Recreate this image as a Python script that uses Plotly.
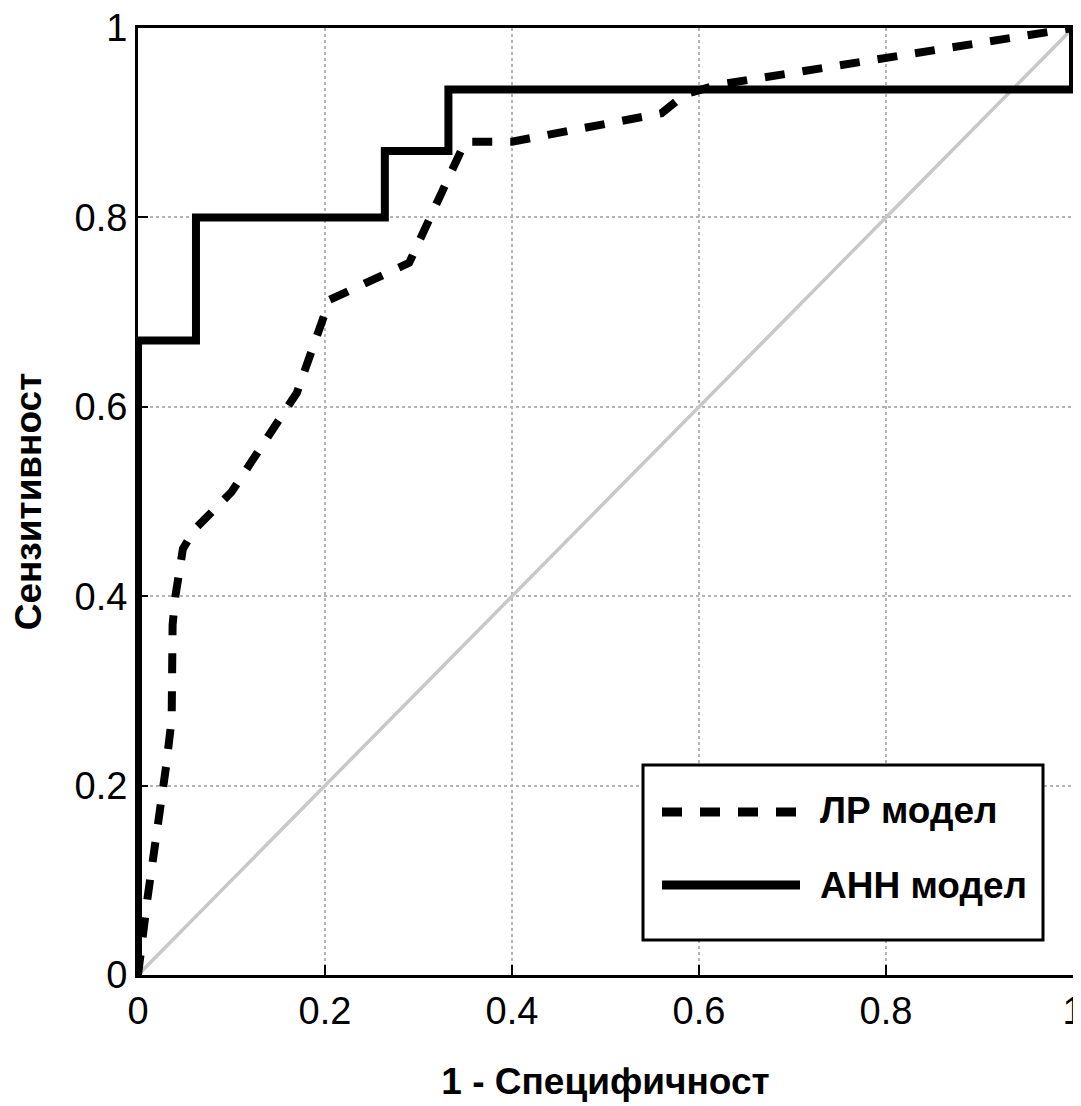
import plotly.graph_objects as go

# ---- data ----
lr_fpr = [0, 0.01, 0.03, 0.036, 0.037, 0.04, 0.048, 0.06, 0.10, 0.17, 0.205, 0.29, 0.35, 0.40, 0.56, 0.585, 0.62, 1.0]
lr_tpr = [0, 0.08, 0.22, 0.27, 0.37, 0.40, 0.45, 0.47, 0.51, 0.615, 0.713, 0.752, 0.88, 0.88, 0.91, 0.93, 0.94, 1.0]

ann_fpr = [0, 0, 0.062, 0.062, 0.264, 0.264, 0.332, 0.332, 1.0, 1.0]
ann_tpr = [0, 0.67, 0.67, 0.80, 0.80, 0.87, 0.87, 0.935, 0.935, 1.0]

ref_x = [0, 1]
ref_y = [0, 1]

tick_vals = [0, 0.2, 0.4, 0.6, 0.8, 1]
tick_text = ["0", "0.2", "0.4", "0.6", "0.8", "1"]

names = ["ЛР модел", "АНН модел"]
x_title = "1 - Специфичност"
y_title = "Сензитивност"

# page has an 8px body margin; figure placed at (8, 8) in the window
W, H = 1073, 1098
L, R, T, B = 130, 8, 20, 131
X0, X1 = 138, 1073   # page pixel positions of x=0 and x=1
Y0, Y1 = 975, 28     # page pixel positions of y=0 and y=1

def px(xp):
    return (xp - X0) / (X1 - X0)

def py(yp):
    return (Y0 - yp) / (Y0 - Y1)

DASH = "20px,18px"
FONT = "Liberation Sans"

fig = go.Figure()
fig.add_trace(go.Scatter(x=ref_x, y=ref_y, mode="lines",
                         line=dict(color="#c8c8c8", width=3.5), showlegend=False, cliponaxis=False))
fig.add_trace(go.Scatter(x=lr_fpr, y=lr_tpr, mode="lines", name=names[0],
                         line=dict(color="black", width=8, dash=DASH), showlegend=False, cliponaxis=False))
fig.add_trace(go.Scatter(x=ann_fpr, y=ann_tpr, mode="lines", name=names[1],
                         line=dict(color="black", width=8), showlegend=False, cliponaxis=False))

axis_common = dict(range=[0, 1], tickvals=tick_vals, ticktext=tick_text, automargin=False,
                   ticklabeloverflow="allow",
                   showgrid=True, gridcolor="#b4b4b4", gridwidth=2, griddash="dot",
                   showline=True, linecolor="black", linewidth=3, mirror=True,
                   ticks="inside", ticklen=10, tickwidth=2, tickcolor="black",
                   zeroline=False, tickfont=dict(family=FONT, size=38, color="black"))

fig.update_xaxes(**axis_common,
                 title=dict(text="<b>%s</b>" % x_title, font=dict(family=FONT, size=37, color="black"), standoff=38))
fig.update_yaxes(**axis_common,
                 title=dict(text="<b>%s</b>" % y_title, font=dict(family=FONT, size=37, color="black"), standoff=41))

# legend box drawn manually
shapes = [
    dict(type="rect", xref="paper", yref="paper", x0=px(643), x1=px(1043), y0=py(940), y1=py(765),
         line=dict(color="black", width=3), fillcolor="white", layer="above"),
    dict(type="line", xref="paper", yref="paper", x0=px(662), x1=px(800), y0=py(812), y1=py(812),
         line=dict(color="black", width=9, dash=DASH), layer="above"),
    dict(type="line", xref="paper", yref="paper", x0=px(662), x1=px(800), y0=py(885), y1=py(885),
         line=dict(color="black", width=9), layer="above"),
]
annotations = [
    dict(xref="paper", yref="paper", x=px(818), y=py(810), text="<b>%s</b>" % names[0], showarrow=False,
         xanchor="left", yanchor="middle", font=dict(family=FONT, size=37, color="black")),
    dict(xref="paper", yref="paper", x=px(818), y=py(885), text="<b>%s</b>" % names[1], showarrow=False,
         xanchor="left", yanchor="middle", font=dict(family=FONT, size=37, color="black")),
]

fig.update_layout(width=W, height=H, margin=dict(l=L, r=R, t=T, b=B),
                  plot_bgcolor="white", paper_bgcolor="white",
                  shapes=shapes, annotations=annotations, showlegend=False)

fig.write_html("out.html")
